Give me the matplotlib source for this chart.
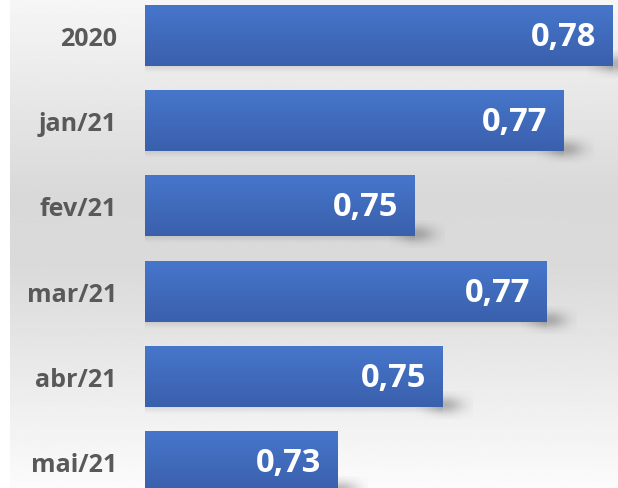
import numpy as np
import matplotlib
matplotlib.use("Agg")
import matplotlib.pyplot as plt
from matplotlib.colors import LinearSegmentedColormap

categories = ["2020", "jan/21", "fev/21", "mar/21", "abr/21", "mai/21"]
values = [0.782, 0.773, 0.746, 0.770, 0.751, 0.732]
labels = ["0,78", "0,77", "0,75", "0,77", "0,75", "0,73"]

W, H = 618, 489
fig = plt.figure(figsize=(W / 100, H / 100), dpi=100)
fig.patch.set_facecolor("white")

# background gradient panel
bg = fig.add_axes([10 / W, 0, 1 - 10 / W, 1])
bg.set_axis_off()
yy = np.linspace(0, 1, 300)
shade = np.interp(yy, [0, 0.4, 0.55, 1.0], [0.965, 0.85, 0.855, 0.985])
bgimg = np.repeat(shade[:, None], 2, axis=1)
bg.imshow(bgimg, cmap="gray", vmin=0, vmax=1, aspect="auto", extent=(0, 1, 0, 1), origin="upper")
bg.set_xlim(0, 1); bg.set_ylim(0, 1)

x0 = 0.697
ppx = 5500.0  # pixels per unit
ax = fig.add_axes([145 / W, 0, 1 - 145 / W, 1])
ax.patch.set_alpha(0)
xmax = x0 + (W - 145) / ppx
pitch = 85.2
ytop = -36.5 / pitch
ybot = 5 + (H - 462.5) / pitch
h = 61 / pitch
ypos = np.arange(len(categories))

cmap = LinearSegmentedColormap.from_list("bar", ["#4676CB", "#3A60AC"])
grad = np.linspace(0, 1, 100)[:, None]

dxp = 1 / ppx
dyp = 1 / pitch

bars = ax.barh(ypos, [v - x0 for v in values], left=x0, height=h, color="#4169BA", zorder=3)
for b, v, lab, y in zip(bars, values, labels, ypos):
    # soft shadow near bottom-right
    gx = np.linspace(-1, 1, 80)
    gy = np.linspace(-1, 1, 50)
    GX, GY = np.meshgrid(gx, gy)
    alpha = np.exp(-(GX ** 2 + GY ** 2) * 2.5) * 0.45
    sh = np.zeros((50, 80, 4))
    sh[..., :3] = 0.4
    sh[..., 3] = alpha
    cx = v + 2 * dxp
    cy = y + h / 2 - 2 * dyp
    ax.imshow(sh, extent=(cx - 28 * dxp, cx + 28 * dxp, cy + 14 * dyp, cy - 14 * dyp),
              aspect="auto", zorder=2, interpolation="bilinear")
    # faint shadow strip below bar
    strip = np.zeros((20, 2, 4))
    strip[..., :3] = 0.3
    strip[..., 3] = np.linspace(0.15, 0, 20)[:, None]
    ax.imshow(strip, extent=(x0, v, y + h / 2 + 7 * dyp, y + h / 2), aspect="auto",
              zorder=2, interpolation="bilinear")
    im = ax.imshow(grad, cmap=cmap, extent=(x0, v, y + h / 2, y - h / 2),
                   aspect="auto", zorder=4, interpolation="bilinear")
    im.set_clip_path(b)
    ax.text(v - 16 * dxp, y + 1 * dyp, lab, ha="right", va="center", color="white",
            fontsize=23.5, fontweight="bold", family="Open Sans", zorder=5)

ax.set_xlim(x0, xmax)
ax.set_ylim(ybot, ytop)
ax.set_yticks(ypos)
ax.set_yticklabels(categories, fontsize=18, fontweight="bold", color="#595959", family="Open Sans")
ax.tick_params(axis="y", length=0, pad=28 * 72 / 100)
ax.set_xticks([])
for s in ax.spines.values():
    s.set_visible(False)

fig.savefig("out.png", dpi=100)
